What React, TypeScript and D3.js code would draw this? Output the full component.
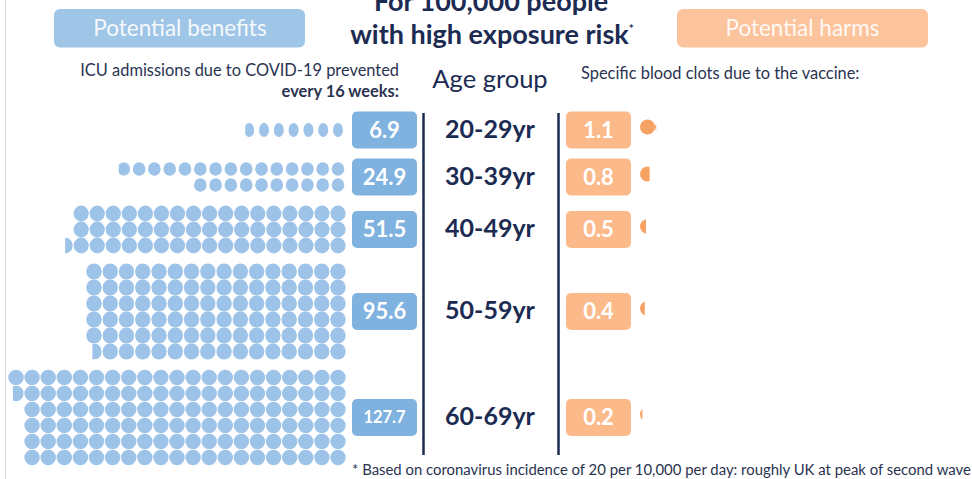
import React, { useMemo } from 'react';
import * as d3 from 'd3';

// --- data ---
const ageGroups = ['20-29yr', '30-39yr', '40-49yr', '50-59yr', '60-69yr'];
const icuPrevented = [6.9, 24.9, 51.5, 95.6, 127.7];
const bloodClots = [1.1, 0.8, 0.5, 0.4, 0.2];
// dots per row as they are drawn (right-aligned, partial dot at the left end)
const dotRows = [
  [6.9],
  [14.9, 10],
  [17, 17, 17.5],
  [16, 16, 16, 16, 16, 15.6],
  [21, 20.7, 20, 20, 20, 20],
];

const W = 972;
const H = 479;
const NAVY = '#1c2b52';
const TEXT = '#2a3350';
const DOT_BLUE = '#9dc3e8';
const BOX_BLUE = '#80b2df';
const HEAD_BLUE = '#9fc5e7';
const BOX_ORANGE = '#fcba8b';
const HEAD_ORANGE = '#fcc49c';
const DOT_ORANGE = '#f5a263';
const FONT = 'Lato, "Open Sans", sans-serif';

// per-group dot geometry (the pictograms were pasted at slightly different scales)
const pitchX = [14.8, 15.3, 16.05, 16.27, 16.1];
const dotR: [number, number][] = [[5, 7], [6.3, 6.8], [7.6, 7.9], [7.7, 8], [7.7, 7.8]];
const rowPitch = 16;
const boxH = 37;
const bandGap = 10;
const bandTop = 111.5;
const dotRight = 338;

const App: React.FC = () => {
  const layout = useMemo(() => {
    const heights = dotRows.map(r => Math.max(r.length * rowPitch, boxH));
    const tops = heights.map((_, i) => bandTop + d3.sum(heights.slice(0, i)) + i * bandGap);
    const centers = tops.map((t, i) => t + heights[i] / 2);
    return { heights, tops, centers };
  }, []);

  const dots = useMemo(() => {
    const out: { id: string; cx: number; cy: number; rx: number; ry: number; frac: number }[] = [];
    dotRows.forEach((rows, g) => {
      const x = d3.scaleLinear().domain([0, 1]).range([dotRight, dotRight - pitchX[g]]);
      const y0 = layout.centers[g] - ((rows.length - 1) / 2) * rowPitch;
      const y = d3.scaleLinear().domain([0, 1]).range([y0, y0 + rowPitch]);
      rows.forEach((count, r) => {
        d3.range(Math.ceil(count)).forEach(c => {
          const frac = Math.min(1, count - c);
          out.push({ id: `d${g}-${r}-${c}`, cx: x(c), cy: y(r), rx: dotR[g][0], ry: dotR[g][1], frac });
        });
      });
    });
    return out;
  }, [layout]);

  // harm pictogram: one dot per unit, partial dots cut from the right
  const harmX = d3.scaleLinear().domain([0, 1]).range([647.5, 662.5]);
  const harmW = d3.scaleLinear().domain([0, 1]).range([0, 12]);
  const harmDots = bloodClots.flatMap((v, g) =>
    d3.range(Math.ceil(v)).map(c => ({
      id: `h${g}-${c}`,
      cx: harmX(c),
      cy: layout.centers[g] - 3,
      frac: Math.min(1, v - c),
    }))
  );

  return (
    <svg width={W} height={H} style={{ position: 'absolute', left: 0, top: 0, background: '#fff' }} fontFamily={FONT}>
      <defs>
        {dots.filter(d => d.frac < 1).map(d => (
          <clipPath key={d.id} id={`clip-${d.id}`}>
            <rect x={d.cx + d.rx - 2 * d.rx * d.frac} y={d.cy - d.ry} width={2 * d.rx * d.frac} height={2 * d.ry} />
          </clipPath>
        ))}
        {harmDots.filter(d => d.frac < 1).map(d => (
          <clipPath key={d.id} id={`clip-${d.id}`}>
            <rect x={d.cx - 7.5} y={d.cy - 8} width={harmW(d.frac)} height={16} />
          </clipPath>
        ))}
      </defs>

      <line x1={5.5} x2={5.5} y1={0} y2={H} stroke="#dcdcdc" strokeWidth={1} />

      {/* title */}
      <text x={491} y={11} textAnchor="middle" fontSize={27} fontWeight="bold" fill={NAVY}>For 100,000 people</text>
      <text x={492} y={44} textAnchor="middle" fontSize={27} fontWeight="bold" fill={NAVY}>
        with high exposure risk<tspan fontSize={12} fontWeight="bold" dy={-11}>*</tspan>
      </text>

      {/* section headers */}
      <rect x={54} y={9} width={251} height={38.5} rx={6} fill={HEAD_BLUE} />
      <text x={180} y={36} textAnchor="middle" fontSize={22.5} fill="#fff" fillOpacity={0.92}>Potential benefits</text>
      <rect x={677} y={9} width={251} height={38.5} rx={6} fill={HEAD_ORANGE} />
      <text x={802.5} y={36} textAnchor="middle" fontSize={22.5} fill="#fff" fillOpacity={0.92}>Potential harms</text>

      <text x={399} y={76} textAnchor="end" fontSize={16.4} fill={TEXT}>ICU admissions due to COVID-19 prevented</text>
      <text x={399} y={96.5} textAnchor="end" fontSize={16.4} fontWeight="bold" fill={TEXT}>every 16 weeks:</text>
      <text x={490} y={88} textAnchor="middle" fontSize={25.5} fill={NAVY}>Age group</text>
      <text x={581} y={79} fontSize={16.4} fill={TEXT}>Specific blood clots due to the vaccine:</text>

      {/* benefit pictogram */}
      {dots.map(d => (
        <ellipse
          key={d.id}
          cx={d.cx}
          cy={d.cy}
          rx={d.rx}
          ry={d.ry}
          fill={DOT_BLUE}
          clipPath={d.frac < 1 ? `url(#clip-${d.id})` : undefined}
        />
      ))}

      {/* value boxes + age labels */}
      {ageGroups.map((g, i) => {
        const cy = layout.centers[i];
        const label = icuPrevented[i].toFixed(1);
        const fs = label.length > 4 ? 16.5 : 22;
        return (
          <g key={g}>
            <rect x={352} y={cy - boxH / 2} width={65} height={boxH} rx={5} fill={BOX_BLUE} />
            <text x={384.5} y={cy + fs * 0.36} textAnchor="middle" fontSize={fs} fontWeight="bold" fill="#fff">{label}</text>
            <text x={490} y={cy + 7.5} textAnchor="middle" fontSize={25} fontWeight="bold" fill={NAVY}>{g}</text>
            <rect x={566} y={cy - boxH / 2} width={65} height={boxH} rx={5} fill={BOX_ORANGE} />
            <text x={598.5} y={cy + 22 * 0.36} textAnchor="middle" fontSize={22} fontWeight="bold" fill="#fff">{bloodClots[i].toFixed(1)}</text>
          </g>
        );
      })}

      {/* harm pictogram */}
      {harmDots.map(d => (
        <circle
          key={d.id}
          cx={d.cx}
          cy={d.cy}
          r={7.5}
          fill={DOT_ORANGE}
          clipPath={d.frac < 1 ? `url(#clip-${d.id})` : undefined}
        />
      ))}

      <line x1={423.5} x2={423.5} y1={113} y2={455} stroke={NAVY} strokeWidth={2.5} />
      <line x1={558.5} x2={558.5} y1={113} y2={455} stroke={NAVY} strokeWidth={2.5} />

      <text x={352} y={475} fontSize={14.9} fill={TEXT}>
        * Based on coronavirus incidence of 20 per 10,000 per day: roughly UK at peak of second wave
      </text>
    </svg>
  );
};

export default App;
